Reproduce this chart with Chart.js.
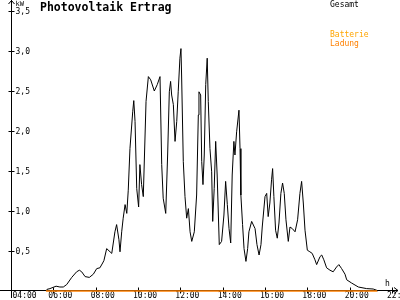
<!doctype html>
<html>
<head>
    <title>Photovoltaik Ertrag</title>
    <meta charset="utf-8" />
    <script src="https://cdn.jsdelivr.net/npm/chart.js@4"></script>
    <style>
        body { margin: 0; background: #fff; }
    </style>
</head>
<body>
    <canvas id="ertrag" width="400" height="300"></canvas>
    <script>
        // Uhrzeit in Stunden, Leistung in kW
        const stunden = [5.65, 5.70, 5.84, 6.13, 6.31, 6.47, 6.63, 6.87, 7.10, 7.23,
            7.34, 7.50, 7.70, 7.89, 8.05, 8.20, 8.33, 8.39, 8.52, 8.68,
            8.76, 8.91, 8.99, 9.10, 9.15, 9.23, 9.30, 9.39, 9.47, 9.54,
            9.62, 9.75, 9.80, 9.86, 9.94, 10.03, 10.09, 10.17, 10.25, 10.38,
            10.49, 10.60, 10.77, 10.91, 11.04, 11.12, 11.19, 11.31, 11.40, 11.48,
            11.54, 11.59, 11.67, 11.75, 11.83, 11.90, 11.98, 12.03, 12.06, 12.14,
            12.22, 12.30, 12.38, 12.46, 12.54, 12.66, 12.77, 12.85, 12.88, 12.96,
            13.01, 13.07, 13.13, 13.20, 13.27, 13.32, 13.40, 13.48, 13.53, 13.60,
            13.67, 13.74, 13.84, 13.95, 14.06, 14.14, 14.22, 14.30, 14.38, 14.45,
            14.53, 14.58, 14.66, 14.77, 14.82, 14.86, 14.94, 15.01, 15.10, 15.18,
            15.24, 15.37, 15.53, 15.62, 15.72, 15.81, 15.87, 16.00, 16.08, 16.15,
            16.23, 16.31, 16.36, 16.42, 16.50, 16.58, 16.66, 16.75, 16.83, 16.91,
            16.99, 17.10, 17.18, 17.29, 17.42, 17.54, 17.65, 17.73, 17.81, 17.89,
            18.00, 18.12, 18.23, 18.36, 18.44, 18.60, 18.68, 18.78, 18.91, 19.07,
            19.22, 19.38, 19.49, 19.62, 19.78, 19.86, 20.09, 20.41, 20.80, 21.11,
            21.27, 21.34];
        const gesamt = [0, 0.02, 0.03, 0.06, 0.05, 0.05, 0.08, 0.17, 0.24, 0.26,
            0.24, 0.18, 0.17, 0.21, 0.28, 0.29, 0.35, 0.38, 0.53, 0.49,
            0.47, 0.74, 0.83, 0.64, 0.49, 0.74, 0.91, 1.08, 0.97, 1.26,
            1.78, 2.24, 2.38, 2.12, 1.28, 1.05, 1.58, 1.33, 1.18, 2.37,
            2.68, 2.64, 2.50, 2.58, 2.68, 1.58, 1.16, 0.97, 1.70, 2.49,
            2.62, 2.45, 2.33, 1.87, 2.12, 2.49, 2.91, 3.03, 2.70, 1.62,
            1.18, 0.91, 1.03, 0.74, 0.62, 0.74, 1.20, 2.20, 2.49, 2.45,
            1.62, 1.33, 1.70, 2.58, 2.91, 2.37, 1.78, 1.49, 0.87, 1.28,
            1.87, 1.45, 0.58, 0.62, 0.95, 1.37, 1.08, 0.78, 0.60, 1.45,
            1.87, 1.70, 1.99, 2.26, 1.78, 1.20, 0.83, 0.53, 0.37, 0.53,
            0.74, 0.87, 0.78, 0.58, 0.45, 0.58, 0.80, 1.18, 1.22, 0.93,
            1.10, 1.39, 1.53, 1.18, 0.76, 0.66, 0.85, 1.22, 1.35, 1.22,
            0.89, 0.62, 0.80, 0.78, 0.74, 0.89, 1.22, 1.37, 1.10, 0.76,
            0.51, 0.49, 0.47, 0.39, 0.33, 0.43, 0.45, 0.39, 0.29, 0.26,
            0.24, 0.30, 0.33, 0.28, 0.21, 0.14, 0.10, 0.05, 0.03, 0.025,
            0.01, 0];
        const ladungStunden = [5.65, 21.3];
        const ladung = [0, 0];

        const xTicks = [4, 6, 8, 10, 12, 14, 16, 18, 20, 22];
        const xLabels = ["04:00", "06:00", "08:00", "10:00", "12:00", "14:00", "16:00", "18:00", "20:00", "22:00"];
        const yTicks = [0.5, 1, 1.5, 2, 2.5, 3, 3.5];
        const yLabels = ["0,5", "1,0", "1,5", "2,0", "2,5", "3,0", "3,5"];

        const mono = '"DejaVu Sans Mono", monospace';

        // Achsen, Beschriftung und Legende selbst zeichnen
        const achsen = {
            id: 'achsen',
            beforeDatasetsDraw(chart) {
                const ctx = chart.ctx;
                const sx = chart.scales.x, sy = chart.scales.y;
                const ax = Math.round(sx.getPixelForValue(4)) + 0.5;
                const ay = Math.round(sy.getPixelForValue(0)) - 0.5;
                ctx.save();
                ctx.strokeStyle = '#000';
                ctx.lineWidth = 1;
                ctx.beginPath();
                ctx.moveTo(ax, 0); ctx.lineTo(ax, 298);
                ctx.moveTo(0, ay); ctx.lineTo(398, ay);
                // Pfeile
                ctx.moveTo(ax - 3, 4); ctx.lineTo(ax, 0.5); ctx.lineTo(ax + 3, 4);
                ctx.moveTo(394, ay - 3); ctx.lineTo(398, ay); ctx.lineTo(394, ay + 3);
                yTicks.forEach(v => {
                    const p = Math.round(sy.getPixelForValue(v)) + 0.5;
                    ctx.moveTo(ax - 3, p); ctx.lineTo(ax + 3, p);
                });
                xTicks.forEach(v => {
                    const p = Math.round(sx.getPixelForValue(v)) + 0.5;
                    ctx.moveTo(p, ay - 3); ctx.lineTo(p, ay + 3);
                });
                ctx.stroke();

                ctx.fillStyle = '#000';
                ctx.font = '8px ' + mono;
                ctx.textBaseline = 'middle';
                ctx.textAlign = 'left';
                yTicks.forEach((v, i) => {
                    ctx.fillText(yLabels[i], ax + 4, sy.getPixelForValue(v) + 0.5);
                });
                xTicks.forEach((v, i) => {
                    const lx = Math.max(sx.getPixelForValue(v) - 5, ax + 1);
                    ctx.fillText(xLabels[i], lx, 296);
                });
                ctx.font = '7px ' + mono;
                ctx.fillText('kW', ax + 4, 4);
                ctx.font = '8px ' + mono;
                ctx.fillText('h', 385, 284);

                ctx.font = 'bold 11.5px ' + mono;
                ctx.fillText('Photovoltaik Ertrag', 40, 8);

                ctx.font = '8px ' + mono;
                ctx.fillText('Gesamt', 330, 5);
                ctx.fillStyle = '#ffa500';
                ctx.fillText('Batterie', 330, 35);
                ctx.fillStyle = '#ff8000';
                ctx.fillText('Ladung', 330, 44);
                ctx.restore();
            }
        };

        new Chart(document.getElementById('ertrag'), {
            type: 'line',
            data: {
                datasets: [
                    {
                        label: 'Batterie Ladung',
                        data: ladungStunden.map((s, i) => ({ x: s, y: ladung[i] })),
                        borderColor: '#ff8000',
                        borderWidth: 1.5,
                        pointRadius: 0,
                        clip: false,
                        order: 0
                    },
                    {
                        label: 'Gesamt',
                        data: stunden.map((s, i) => ({ x: s, y: gesamt[i] })),
                        borderColor: '#000',
                        borderWidth: 1,
                        pointRadius: 0,
                        tension: 0,
                        clip: false,
                        order: 1
                    }
                ]
            },
            options: {
                responsive: false,
                animation: false,
                layout: { padding: { left: 11, right: 8, top: 11, bottom: 9 } },
                plugins: { legend: { display: false }, tooltip: { enabled: false } },
                scales: {
                    x: { type: 'linear', min: 4, max: 22, display: false },
                    y: { min: 0, max: 3.5, display: false }
                }
            },
            plugins: [achsen]
        });
    </script>
</body>
</html>
